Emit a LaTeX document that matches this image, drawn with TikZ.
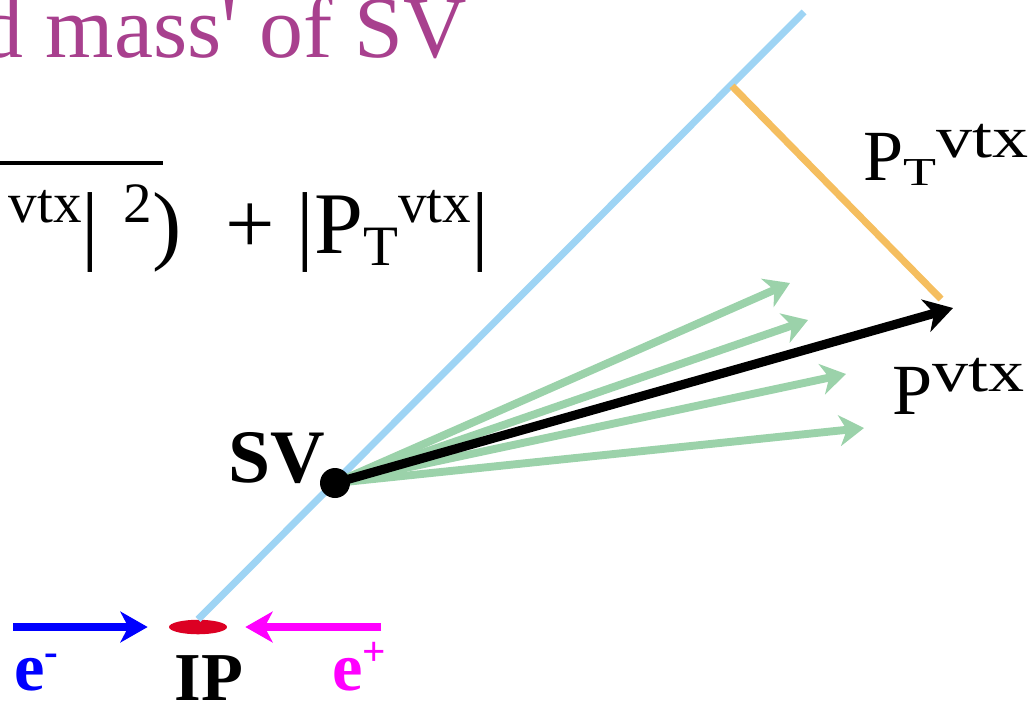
\documentclass[tikz,border=0pt]{standalone}
\usepackage{fontspec}
\setmainfont{Liberation Serif}
\usepackage{graphicx}
\usepackage{xcolor}
\usepackage{tikz}
\usetikzlibrary{shapes.geometric,arrows.meta,positioning}
\definecolor{axisblue}{RGB}{158,212,244}
\definecolor{ptorange}{RGB}{245,190,95}
\definecolor{trkgreen}{RGB}{155,210,170}
\definecolor{ipred}{RGB}{220,0,35}
\definecolor{titlepurple}{RGB}{168,64,142}
\definecolor{eblue}{RGB}{0,0,255}
\definecolor{emagenta}{RGB}{255,0,255}
%% super/subscripts for the formula line
\newcommand{\sups}[1]{\raisebox{0.35em}{\scalebox{0.65}{#1}}}
\newcommand{\subs}[1]{\raisebox{-0.14em}{\scalebox{0.65}{#1}}}
%% wide super/subscripts for the vector labels
\newcommand{\supw}[1]{\raisebox{0.31em}{\scalebox{1}[0.82]{#1}}}
\newcommand{\subw}[1]{\raisebox{-0.07em}{\scalebox{0.75}[0.55]{#1}}}
%% beam charge
\newcommand{\supe}[1]{\raisebox{0.36em}{\scalebox{0.6}{#1}}}

\begin{document}
\begin{tikzpicture}[
  x=0.02cm, y=-0.02cm,
  %% styles
  svaxis/.style={draw=axisblue, line width=4pt},
  ptline/.style={draw=ptorange, line width=4pt},
  trk/.style={draw=trkgreen, line width=4.5pt,
              -{Stealth[length=14pt,width=17.5pt,inset=4.2pt]}},
  vtxarr/.style={draw=black, line width=5.2pt,
                 -{Stealth[length=16pt,width=19pt,inset=4.8pt]}},
  beamarr/.style={draw=#1, line width=4.8pt,
                  -{Stealth[length=15.5pt,width=17.5pt,inset=4.5pt]}},
  ipspot/.style={ellipse, fill=ipred, inner sep=0pt,
                 minimum width=1.16cm, minimum height=0.29cm},
  vtxdot/.style={circle, fill=black, inner sep=0pt, minimum size=0.6cm},
  bigtxt/.style={inner sep=0pt, font=\fontsize{50}{60}\selectfont},
  veclbl/.style={inner sep=0pt, font=\fontsize{41}{48}\selectfont},
  boldlbl/.style={inner sep=0pt, font=\fontsize{#1}{#1}\selectfont\bfseries},
]

%% frame of the (cropped) slide
\useasboundingbox (0,0) rectangle (1033,704);
\clip (0,0) rectangle (1033,704);

%% ------ texts at the top -------------------------------------------
\node[bigtxt, text=titlepurple, anchor=base east] (title) at (467,57)
  {d mass\textquotesingle\ of SV};
\node[bigtxt, anchor=base east] (formula) at (489,253)
  {\sups{vtx}|\,\sups{\,2})\ \ + |P\subs{T}\sups{vtx}|};
\draw[line width=2.3pt] (-10,163) -- (163,163);

%% ------ interaction point and beams --------------------------------
\node[ipspot] (ip) at (198,627) {};
\node[boldlbl=39, anchor=base] (iplbl) at (209,700) {IP};

\coordinate (emsrc) at (13,627);
\coordinate (epsrc) at (381,627);
\draw[beamarr=eblue, shorten >=0.42cm] (emsrc) -- (ip.west);
\draw[beamarr=emagenta, shorten >=0.36cm] (epsrc) -- (ip.east);
\node[boldlbl=39, text=eblue, anchor=base west] (emlbl) at (14,690)
  {e\supe{-}};
\node[boldlbl=39, text=emagenta, anchor=base west] (eplbl) at (332,690)
  {e\supe{+}};

%% ------ flight axis and secondary vertex ---------------------------
\coordinate (axtop) at (804,12);
\coordinate (sv) at (335,483);
\draw[svaxis] (ip.north) -- (axtop);

%% transverse component
\coordinate (ptfoot) at (732,86);
\coordinate (pttop) at (941,299);
\draw[ptline] (ptfoot) -- (pttop);

%% tracks
\foreach \i/\tx/\ty in {1/790/283, 2/808/320, 3/846/374, 4/864/428}{
  \coordinate (trk\i) at (\tx,\ty);
  \draw[trk] (sv) -- (trk\i);
}

%% vertex momentum
\coordinate (pvtx) at (953,308);
\draw[vtxarr] (sv) -- (pvtx);

\node[vtxdot] (svdot) at (sv) {};
\node[boldlbl=43, anchor=base east] (svlbl) at (325,482) {SV};

%% ------ vector labels ----------------------------------------------
\node[veclbl, anchor=base west] (ptlbl) at (863,180)
  {P\subw{T}\supw{vtx}};
\node[veclbl, anchor=base west] (plbl) at (892,414)
  {P\supw{vtx}};

\end{tikzpicture}
\end{document}
